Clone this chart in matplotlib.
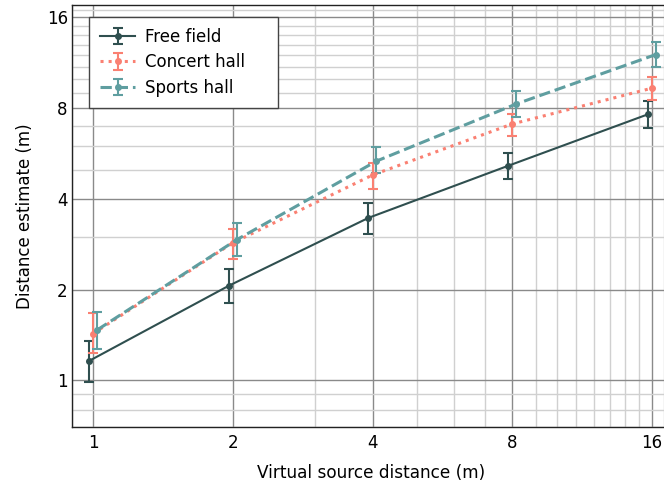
import numpy as np
import matplotlib
matplotlib.use('Agg')
import matplotlib.pyplot as plt
from matplotlib.ticker import FixedLocator, NullFormatter

# virtual source distances (m)
distances = np.array([1, 2, 4, 8, 16])

# mean distance estimates (m)
free_field = np.array([1.16, 2.06, 3.46, 5.15, 7.63])
free_field_lo = np.array([0.99, 1.81, 3.07, 4.65, 6.89])
free_field_hi = np.array([1.35, 2.34, 3.88, 5.69, 8.47])

concert_hall = np.array([1.43, 2.86, 4.80, 7.09, 9.32])
concert_hall_lo = np.array([1.23, 2.52, 4.33, 6.48, 8.52])
concert_hall_hi = np.array([1.67, 3.19, 5.25, 7.67, 10.16])

sports_hall = np.array([1.47, 2.93, 5.34, 8.26, 12.05])
sports_hall_lo = np.array([1.27, 2.59, 4.86, 7.48, 10.96])
sports_hall_hi = np.array([1.69, 3.32, 5.96, 9.13, 13.25])

tick_vals = [1, 2, 4, 8, 16]
minor_vals = [v for v in range(1, 19) if v not in tick_vals] + [0.7, 0.8, 0.9]

plt.rcParams['font.family'] = 'DejaVu Sans'

fig = plt.figure(figsize=(6.64, 4.90), dpi=100)
ax = fig.add_axes([72/664, 1-427/490, 1-72/664, (427-5)/490])

# small horizontal offsets so error bars do not overlap
series = [
    ('Free field', free_field, free_field_lo, free_field_hi, 0.98, '#2F4F4F', '-', 1.5),
    ('Concert hall', concert_hall, concert_hall_lo, concert_hall_hi, 1.0, '#FA8072', ':', 2.2),
    ('Sports hall', sports_hall, sports_hall_lo, sports_hall_hi, 1.02, '#5F9EA0', '--', 2.2),
]
for name, y, lo, hi, off, col, ls, lw in series:
    err = np.vstack([y - lo, hi - y])
    ax.errorbar(distances*off, y, yerr=err, color=col, ls=ls, lw=lw,
                marker='o', ms=4, capsize=3.5, elinewidth=1.5, capthick=1.5,
                label=name, zorder=3)

ax.set_xscale('log', base=2)
ax.set_yscale('log', base=2)
ax.set_xlim(0.9, 17)
ax.set_ylim(0.7, 17.6)

ax.xaxis.set_major_locator(FixedLocator(tick_vals))
ax.yaxis.set_major_locator(FixedLocator(tick_vals))
ax.set_xticklabels([str(v) for v in tick_vals])
ax.set_yticklabels([str(v) for v in tick_vals])
ax.xaxis.set_minor_locator(FixedLocator(minor_vals))
ax.yaxis.set_minor_locator(FixedLocator(minor_vals))
ax.xaxis.set_minor_formatter(NullFormatter())
ax.yaxis.set_minor_formatter(NullFormatter())

ax.grid(which='major', color='#8a8a8a', lw=1.0)
ax.grid(which='minor', color='#d0d0d0', lw=1.0)
ax.set_axisbelow(True)
ax.tick_params(which='both', length=0, labelsize=12)
ax.tick_params(axis='y', pad=3)
ax.tick_params(axis='x', pad=5)

ax.spines['right'].set_visible(False)
for s in ['left', 'bottom', 'top']:
    ax.spines[s].set_color('#222222')
    ax.spines[s].set_linewidth(1.0)

ax.set_xlabel('Virtual source distance (m)', fontsize=12.2)
ax.set_ylabel('Distance estimate (m)', fontsize=12)
ax.xaxis.set_label_coords(0.506, -0.088)
ax.yaxis.set_label_coords(-0.064, 0.5)

leg = ax.legend(loc='upper left', bbox_to_anchor=(0.0292, 0.9716, 0.319, 0),
                mode='expand', borderaxespad=0, fontsize=12,
                fancybox=False, framealpha=1, edgecolor='#444444',
                handlelength=2.1, handletextpad=0.6, borderpad=0.65,
                labelspacing=0.45)
leg.get_frame().set_linewidth(1.0)

fig.savefig('out.png', dpi=100)
